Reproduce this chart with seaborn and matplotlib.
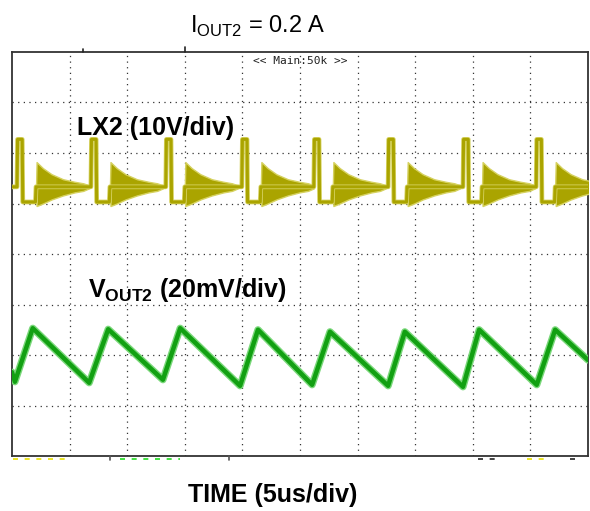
import numpy as np
import pandas as pd
import matplotlib
matplotlib.use("Agg")
import matplotlib.pyplot as plt
import seaborn as sns
from matplotlib.lines import Line2D

# screen units: x in time divisions (0..10, 5us/div), y in vertical divisions (-4..4)
LX_EDGES = [0.087, 1.37, 2.67, 3.99, 5.24, 6.53, 7.83, 9.10]
LX_IDLE = 1.33
LX_SHAPE_DT = [0.0, 0.01, 0.09, 0.10, 0.32, 0.33]
LX_SHAPE_V = [1.33, 2.27, 2.27, 1.03, 1.03, 1.33]
RING_DT = [0.33, 0.34, 0.45, 0.60, 0.80, 1.00, 1.15, 1.25]
RING_HI = [1.33, 1.82, 1.70, 1.58, 1.48, 1.43, 1.40, 1.36]
RING_LO = [1.33, 0.95, 1.00, 1.08, 1.16, 1.22, 1.25, 1.30]

VOUT_T = [0.0, 0.05, 0.36, 1.34, 1.67, 2.62, 2.92, 3.96, 4.27, 5.21, 5.52,
          6.53, 6.82, 7.83, 8.11, 9.11, 9.43, 10.0]
VOUT_V = [-2.34, -2.53, -1.47, -2.55, -1.49, -2.49, -1.47, -2.61, -1.50, -2.59,
          -1.54, -2.61, -1.54, -2.63, -1.50, -2.59, -1.50, -2.10]

LX_COLOR = "#aaa400"
LX_LIGHT = "#d6d260"
VOUT_COLOR = "#12a012"
VOUT_LIGHT = "#7bd87b"

sns.set_theme(style="white")
plt.rcParams["font.family"] = ["Liberation Sans", "DejaVu Sans"]
plt.rcParams["text.color"] = "black"
plt.rcParams["mathtext.fontset"] = "custom"
plt.rcParams["mathtext.rm"] = "Liberation Sans"
plt.rcParams["mathtext.bf"] = "Liberation Sans:bold"

# build LX2 trace from the edge list and one-cycle shape
lx_t, lx_v = [0.0], [LX_IDLE]
for e in LX_EDGES:
    for dt, v in zip(LX_SHAPE_DT, LX_SHAPE_V):
        lx_t.append(e + dt)
        lx_v.append(v)
lx_t.append(10.0)
lx_v.append(LX_IDLE)
lx = pd.DataFrame({"t": lx_t, "v": lx_v})
vout = pd.DataFrame({"t": VOUT_T, "v": VOUT_V})

fig = plt.figure(figsize=(5.9, 5.11), dpi=100)
ax = fig.add_axes([12 / 590, 55 / 511, 576 / 590, 404 / 511])

ax.set_xlim(0, 10)
ax.set_ylim(-4, 4)
ax.set_xticks(range(1, 10))
ax.set_yticks(range(-3, 4))
ax.set_xticklabels([])
ax.set_yticklabels([])
ax.tick_params(length=0)
ax.grid(True, color="#333333", linestyle=(0, (1, 3.5)), linewidth=0.9)
for s in ax.spines.values():
    s.set_color("#333333")
    s.set_linewidth(1.3)

# ringing bands
for e in LX_EDGES:
    rt = [e + d for d in RING_DT]
    ax.fill_between(rt, RING_LO, RING_HI, color=LX_COLOR, linewidth=1.0,
                    edgecolor=LX_LIGHT, zorder=3)

sns.lineplot(data=lx, x="t", y="v", ax=ax, sort=False, estimator=None,
             color=LX_LIGHT, linewidth=3.4, zorder=3)
sns.lineplot(data=lx, x="t", y="v", ax=ax, sort=False, estimator=None,
             color=LX_COLOR, linewidth=2.2, zorder=4)
sns.lineplot(data=vout, x="t", y="v", ax=ax, sort=False, estimator=None,
             color=VOUT_LIGHT, linewidth=5.2, zorder=3)
sns.lineplot(data=vout, x="t", y="v", ax=ax, sort=False, estimator=None,
             color=VOUT_COLOR, linewidth=3.2, zorder=4)
ax.set_xlabel("")
ax.set_ylabel("")

ax.text(5.0, 3.83, "<< Main:50k >>", family="DejaVu Sans Mono", fontsize=8,
        color="#222222", va="center", ha="center", zorder=5)

ax.text(1.13, 2.5, "LX2 (10V/div)", fontsize=18, fontweight="bold",
        va="center", ha="left", zorder=6)
ax.text(1.32, -0.72, r"V$_{\mathbf{OUT2}}$ (20mV/div)", fontsize=18,
        fontweight="bold", va="center", ha="left", zorder=6)

fig.text(258 / 590, 1 - 26 / 511, r"I$_{\mathrm{OUT2}}$ = 0.2 A", fontsize=17,
         ha="center", va="center")
fig.text(273 / 590, 1 - 495 / 511, "TIME (5us/div)", fontsize=18,
         fontweight="bold", ha="center", va="center")

# small scope marks around the frame
for x0, h in [(83, 3), (185, 5)]:
    fig.add_artist(Line2D([x0 / 590, x0 / 590], [1 - 52 / 511, 1 - (52 - h) / 511],
                          color="#222222", linewidth=1.2))
for x0 in [110, 229]:
    fig.add_artist(Line2D([x0 / 590, x0 / 590], [1 - 456 / 511, 1 - 460 / 511],
                          color="#555555", linewidth=1.2))
# clipped channel readouts under the frame
for x0, x1, c in [(13, 70, "#e8e000"), (120, 180, "#22dd22"), (478, 495, "#222222"),
                  (527, 550, "#e8e000"), (570, 580, "#222222")]:
    fig.add_artist(Line2D([x0 / 590, x1 / 590], [1 - 459 / 511, 1 - 459 / 511],
                          color=c, linewidth=1.2, linestyle=(0, (3, 4))))

fig.savefig("out.png", dpi=100)
